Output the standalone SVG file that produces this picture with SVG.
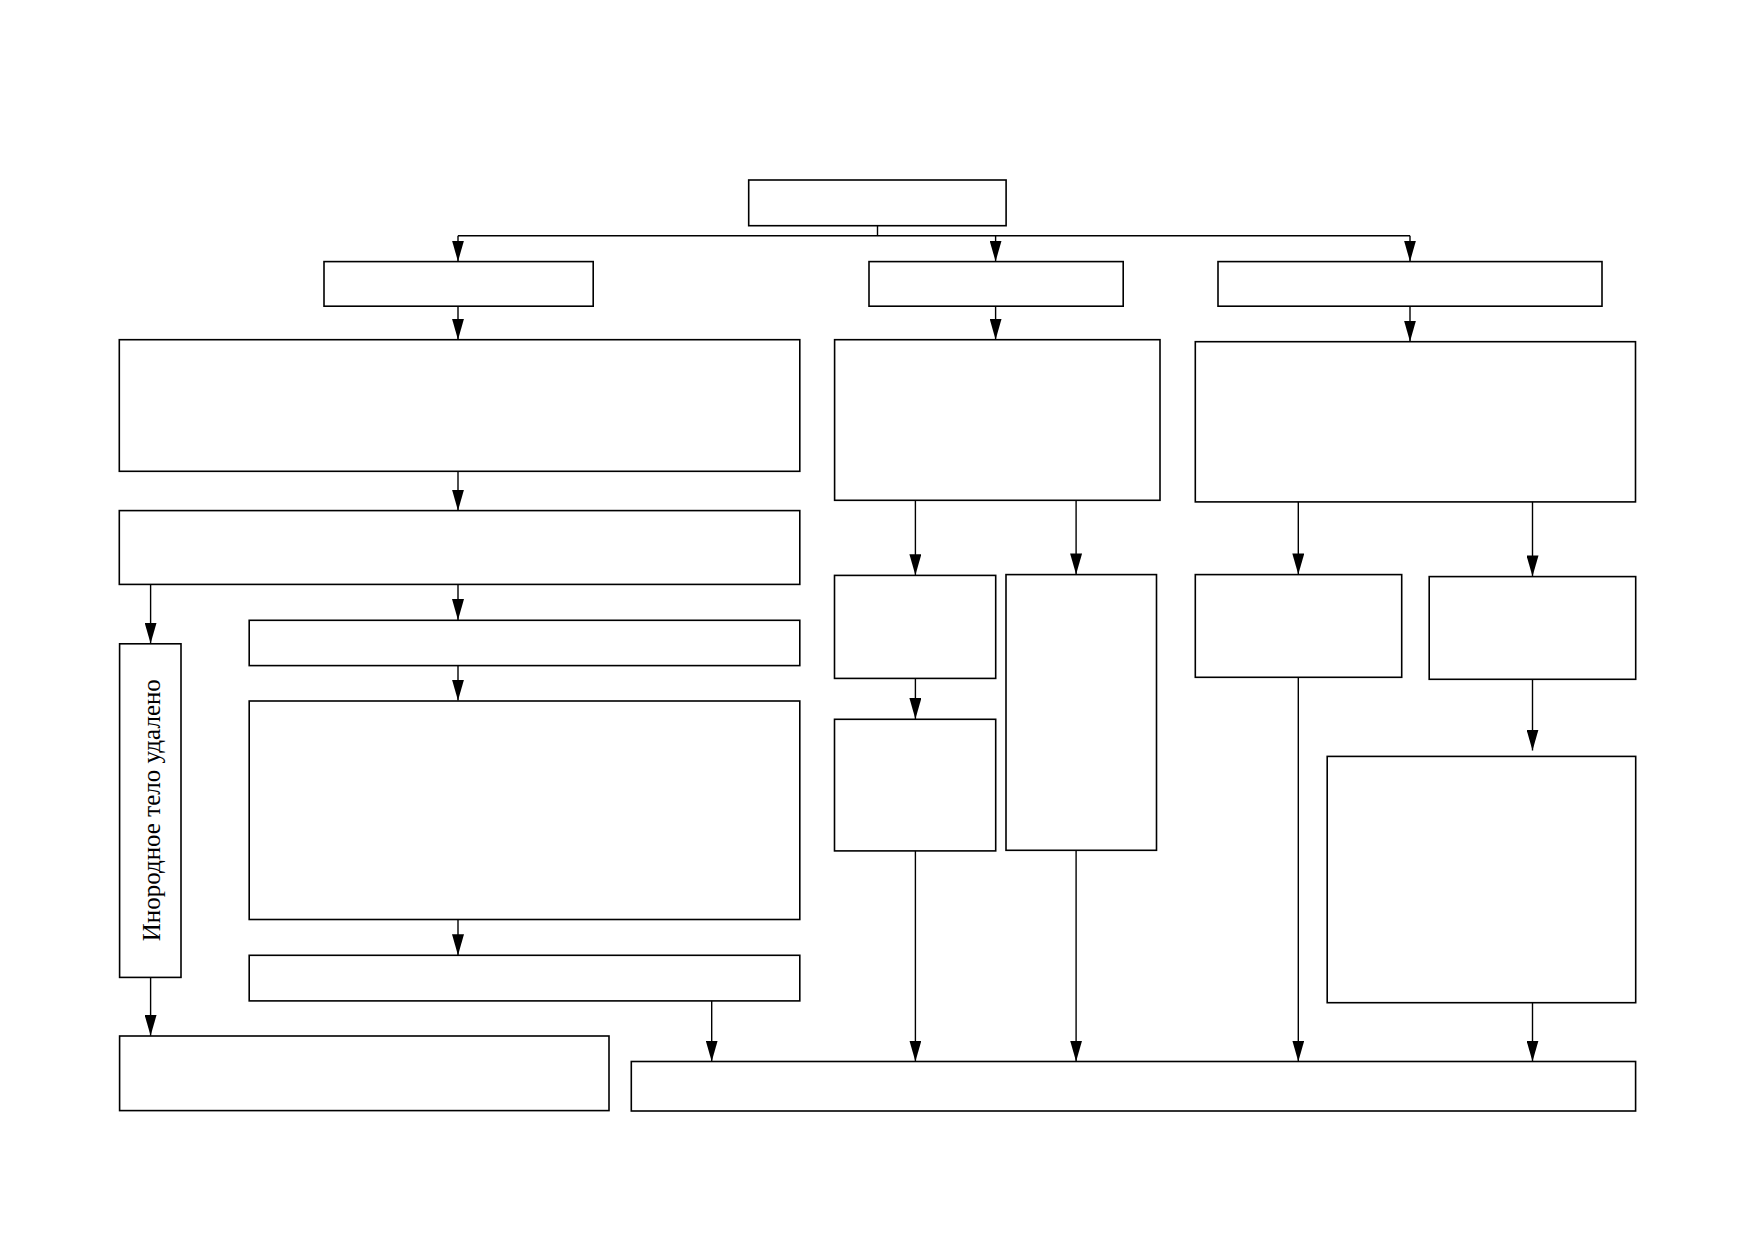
<svg xmlns="http://www.w3.org/2000/svg" width="1752" height="1239" viewBox="0 0 1752 1239">
<style>
.box{fill:#fff;stroke:#000;stroke-width:1.6}
.ln{fill:none;stroke:#000;stroke-width:1.4}
.lbl{font-family:"Liberation Serif","Times New Roman",serif;font-size:25px;fill:#000}
</style>
<defs>
<marker id="ah" markerUnits="userSpaceOnUse" viewBox="0 0 21 12" refX="21" refY="6" markerWidth="21" markerHeight="12" orient="auto">
<path d="M0,0 L21,6 L0,12 z" fill="#000"/>
</marker>
</defs>
<rect width="1752" height="1239" fill="#fff"/>
<g id="connectors">
<path class="ln" d="M877.5,225.7 V235.8"/>
<path class="ln" d="M458,235.8 H1410"/>
<path class="ln" d="M458,235.8 V261.5" marker-end="url(#ah)"/>
<path class="ln" d="M995.6,235.8 V261.5" marker-end="url(#ah)"/>
<path class="ln" d="M1410,235.8 V261.5" marker-end="url(#ah)"/>
<path class="ln" d="M458,306.2 V339.7" marker-end="url(#ah)"/>
<path class="ln" d="M995.6,306.2 V339.7" marker-end="url(#ah)"/>
<path class="ln" d="M1410,306.2 V341.5" marker-end="url(#ah)"/>
<path class="ln" d="M458,471.5 V510.6" marker-end="url(#ah)"/>
<path class="ln" d="M150.6,584.4 V643.6" marker-end="url(#ah)"/>
<path class="ln" d="M458,584.4 V620.1" marker-end="url(#ah)"/>
<path class="ln" d="M458,665.9 V700.6" marker-end="url(#ah)"/>
<path class="ln" d="M458,919.6 V955.3" marker-end="url(#ah)"/>
<path class="ln" d="M150.6,977.7 V1035.8" marker-end="url(#ah)"/>
<path class="ln" d="M711.7,1001.1 V1061.5" marker-end="url(#ah)"/>
<path class="ln" d="M915.4,500.6 V575.2" marker-end="url(#ah)"/>
<path class="ln" d="M1076.1,500.6 V574.4" marker-end="url(#ah)"/>
<path class="ln" d="M915.4,678.3 V719.1" marker-end="url(#ah)"/>
<path class="ln" d="M915.4,851 V1061.5" marker-end="url(#ah)"/>
<path class="ln" d="M1076.1,850.3 V1061.5" marker-end="url(#ah)"/>
<path class="ln" d="M1298.3,499.5 V574.4" marker-end="url(#ah)"/>
<path class="ln" d="M1532.5,499.5 V576.4" marker-end="url(#ah)"/>
<path class="ln" d="M1298.3,677.3 V1061.5" marker-end="url(#ah)"/>
<path class="ln" d="M1532.5,677 V750.5" marker-end="url(#ah)"/>
<path class="ln" d="M1532.5,1000.5 V1061.5" marker-end="url(#ah)"/>
</g>
<g id="n-top"><rect class="box" x="748.7" y="180" width="257.4" height="45.7"/></g>
<g id="n-a2"><rect class="box" x="324" y="261.6" width="269.2" height="44.6"/></g>
<g id="n-b2"><rect class="box" x="869" y="261.6" width="254.2" height="44.6"/></g>
<g id="n-c2"><rect class="box" x="1218" y="261.6" width="384" height="44.6"/></g>
<g id="n-a3"><rect class="box" x="119.3" y="339.7" width="680.5" height="131.6"/></g>
<g id="n-b3"><rect class="box" x="834.6" y="339.7" width="325.4" height="160.6"/></g>
<g id="n-c3"><rect class="box" x="1195.3" y="341.7" width="440.2" height="160.2"/></g>
<g id="n-a4"><rect class="box" x="119.3" y="510.6" width="680.5" height="73.8"/></g>
<g id="n-vert"><rect class="box" x="119.6" y="643.8" width="61.4" height="333.6"/>
<text class="lbl" transform="translate(151.5,810.2) rotate(-90)" text-anchor="middle" y="8.5">Инородное тело удалено</text></g>
<g id="n-a5"><rect class="box" x="249.2" y="620.3" width="550.6" height="45.3"/></g>
<g id="n-a6"><rect class="box" x="249.2" y="701" width="550.6" height="218.5"/></g>
<g id="n-a7"><rect class="box" x="249.2" y="955.3" width="550.6" height="45.6"/></g>
<g id="n-bl"><rect class="box" x="119.6" y="1036" width="489.4" height="74.6"/></g>
<g id="n-b4a"><rect class="box" x="834.5" y="575.4" width="161.2" height="103"/></g>
<g id="n-b4b"><rect class="box" x="1006" y="574.6" width="150.5" height="275.7"/></g>
<g id="n-b5"><rect class="box" x="834.5" y="719.3" width="161.2" height="131.6"/></g>
<g id="n-c4a"><rect class="box" x="1195.3" y="574.6" width="206.4" height="102.7"/></g>
<g id="n-c4b"><rect class="box" x="1429.2" y="576.6" width="206.5" height="102.7"/></g>
<g id="n-c5"><rect class="box" x="1327.2" y="756.4" width="308.5" height="246.3"/></g>
<g id="n-bottom"><rect class="box" x="631.3" y="1061.5" width="1004.3" height="49.5"/></g>
</svg>
